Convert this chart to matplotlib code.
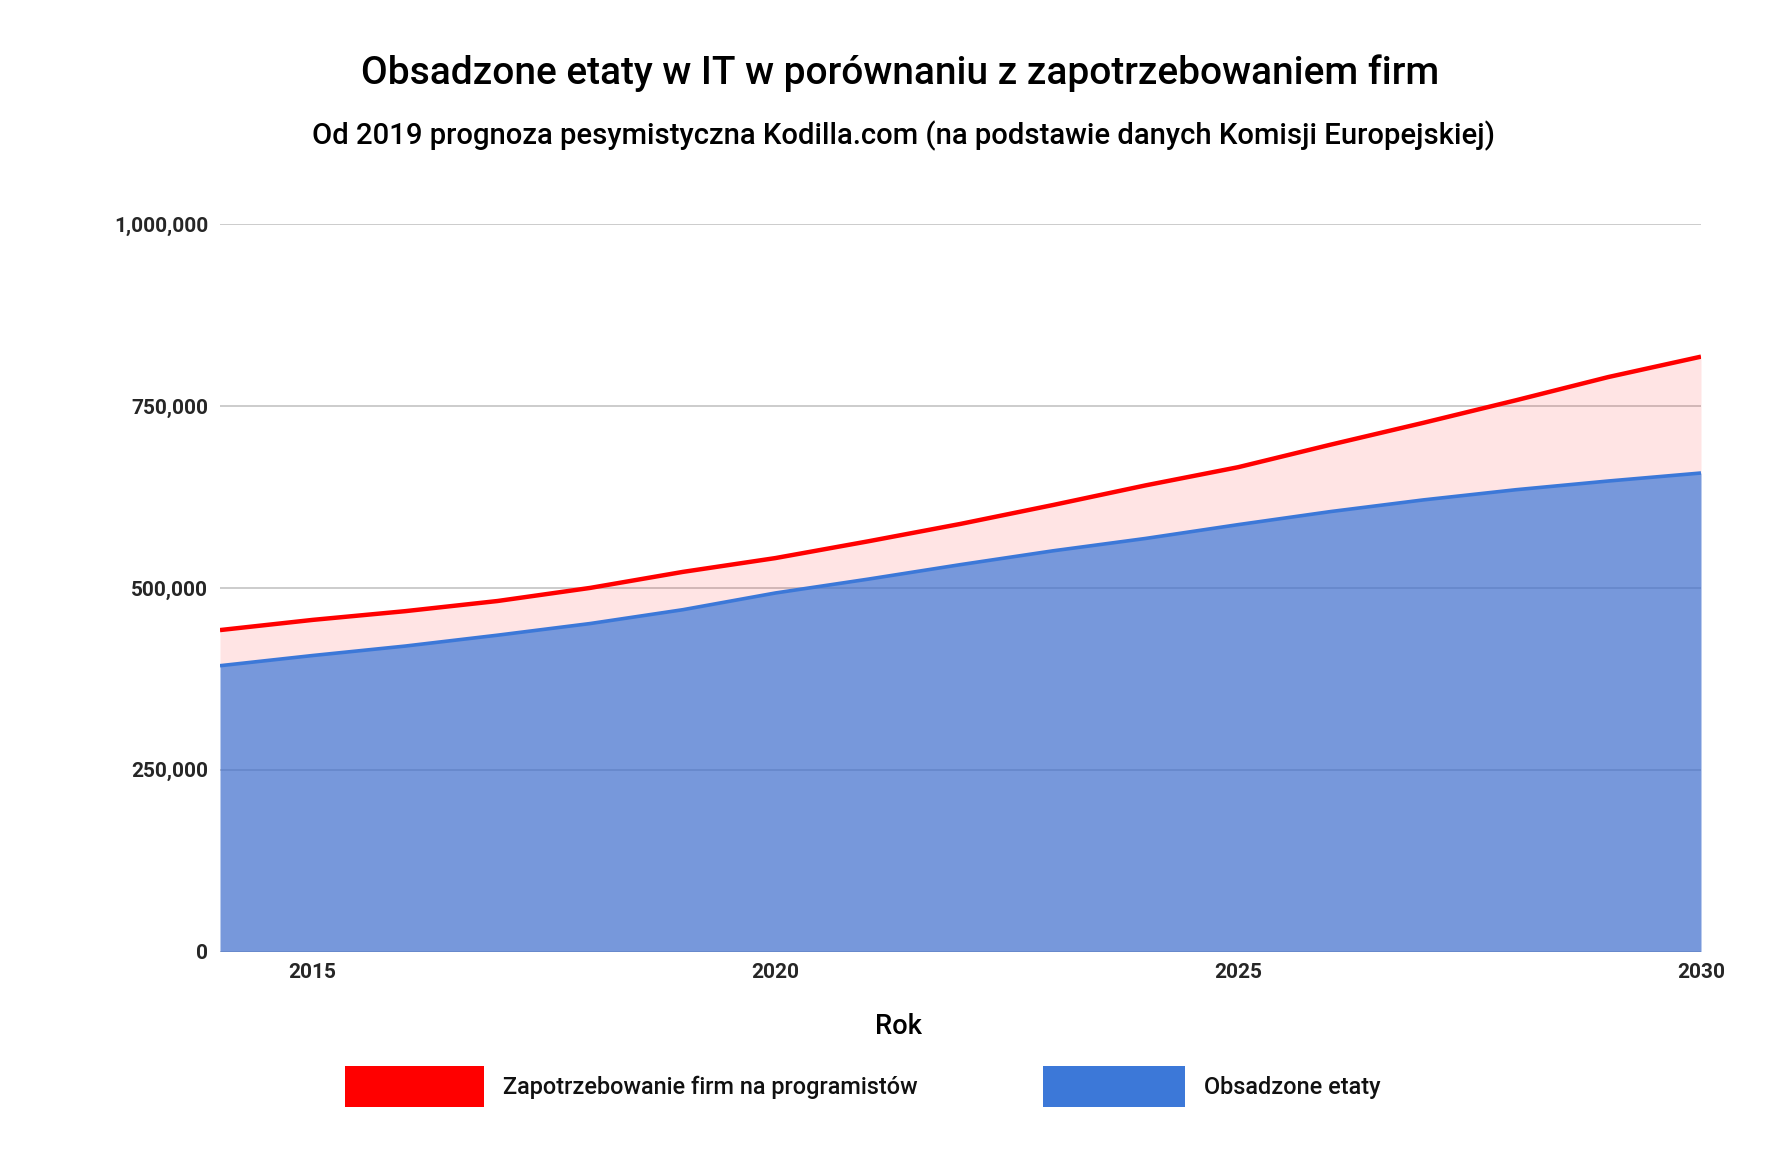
import matplotlib
matplotlib.use("Agg")
import matplotlib.pyplot as plt
from matplotlib.patches import Rectangle
from matplotlib.ticker import FuncFormatter
import numpy as np

# ---- data ----
years = [2014, 2015, 2016, 2017, 2018, 2019, 2020, 2021, 2022,
         2023, 2024, 2025, 2026, 2027, 2028, 2029, 2030]
demand = [442000, 456000, 468000, 482000, 500000, 522000, 541000, 564000, 588000,
          614000, 641000, 666000, 697000, 727000, 758000, 790000, 818000]
filled = [393000, 407000, 420000, 435000, 451000, 470000, 493000, 512000, 532000,
          551000, 568000, 587000, 605000, 621000, 635000, 647000, 658000]
x_ticks = [2015, 2020, 2025, 2030]
y_ticks = [0, 250000, 500000, 750000, 1000000]

title = "Obsadzone etaty w IT w porównaniu z zapotrzebowaniem firm"
subtitle = "Od 2019 prognoza pesymistyczna Kodilla.com (na podstawie danych Komisji Europejskiej)"
x_label = "Rok"
legend_labels = ["Zapotrzebowanie firm na programistów", "Obsadzone etaty"]

W, H = 1786, 1176
plt.rcParams['font.family'] = ['Roboto', 'DejaVu Sans']

fig = plt.figure(figsize=(W / 100, H / 100), dpi=100)
fig.patch.set_facecolor("white")

left, right, top_px, bot_px = 220, 1701, 224.3, 951.5
ax = fig.add_axes([left / W, (H - bot_px) / H, (right - left) / W, (bot_px - top_px) / H])

ax.set_xlim(2014, 2030)
ax.set_ylim(0, 1000000)

for yv in y_ticks:
    ax.axhline(yv, color="#c4c4c4", lw=1.2, zorder=0)

ax.fill_between(years, filled, demand, color=(1.0, 0.0, 0.0), alpha=0.105, lw=0, zorder=1)
ax.fill_between(years, 0, filled, color=(61/255, 108/255, 204/255), alpha=0.7, lw=0, zorder=1)
ax.plot(years, filled, color="#3c78d8", lw=2.6, zorder=3, solid_capstyle="butt")
ax.plot(years, demand, color="#ff0000", lw=3.2, zorder=4, solid_capstyle="butt")

for s in ax.spines.values():
    s.set_visible(False)

ax.set_xticks(x_ticks)
ax.set_yticks(y_ticks)
ax.yaxis.set_major_formatter(FuncFormatter(lambda v, p: f"{int(v):,}"))
ax.tick_params(axis="both", length=0, labelsize=15, labelcolor="#262626")
ax.tick_params(axis="y", pad=8.5)
ax.tick_params(axis="x", pad=8.5)
for lab in ax.get_xticklabels() + ax.get_yticklabels():
    lab.set_fontweight("bold")

def fx(px):
    return px / W

def fy(py):
    return (H - py) / H

t_title = fig.text(fx(900.5), fy(73), title, ha="center", va="center",
                   fontsize=22, fontweight="medium", color="#000000")
t_sub = fig.text(fx(904), fy(135.5), subtitle, ha="center", va="center",
                 fontsize=18, fontweight="medium", color="#000000")
t_rok = fig.text(fx(898.6), fy(1026), x_label, ha="center", va="center",
                 fontsize=19, fontweight="medium", color="#000000")

# legend (manual)
fig.add_artist(Rectangle((fx(345), fy(1107)), (484 - 345) / W, (1107 - 1066) / H,
                         transform=fig.transFigure, facecolor="#ff0000", edgecolor="none"))
fig.add_artist(Rectangle((fx(1043), fy(1107)), (1185 - 1043) / W, (1107 - 1066) / H,
                         transform=fig.transFigure, facecolor="#3c78d8", edgecolor="none"))
t_l1 = fig.text(fx(503), fy(1087.5), legend_labels[0], ha="left", va="center",
                fontsize=17, fontweight="medium", color="#111111")
t_l2 = fig.text(fx(1204), fy(1087.5), legend_labels[1], ha="left", va="center",
                fontsize=17, fontweight="medium", color="#111111")

# fit text widths to the reference
targets = [(t_title, 1081), (t_sub, 1184), (t_l1, 417), (t_l2, 177), (t_rok, 47)]
fig.canvas.draw()
r = fig.canvas.get_renderer()
for t, w in targets:
    cur = t.get_window_extent(r).width
    t.set_fontsize(t.get_fontsize() * w / cur)

fig.savefig("out.png", dpi=100, facecolor="white")
